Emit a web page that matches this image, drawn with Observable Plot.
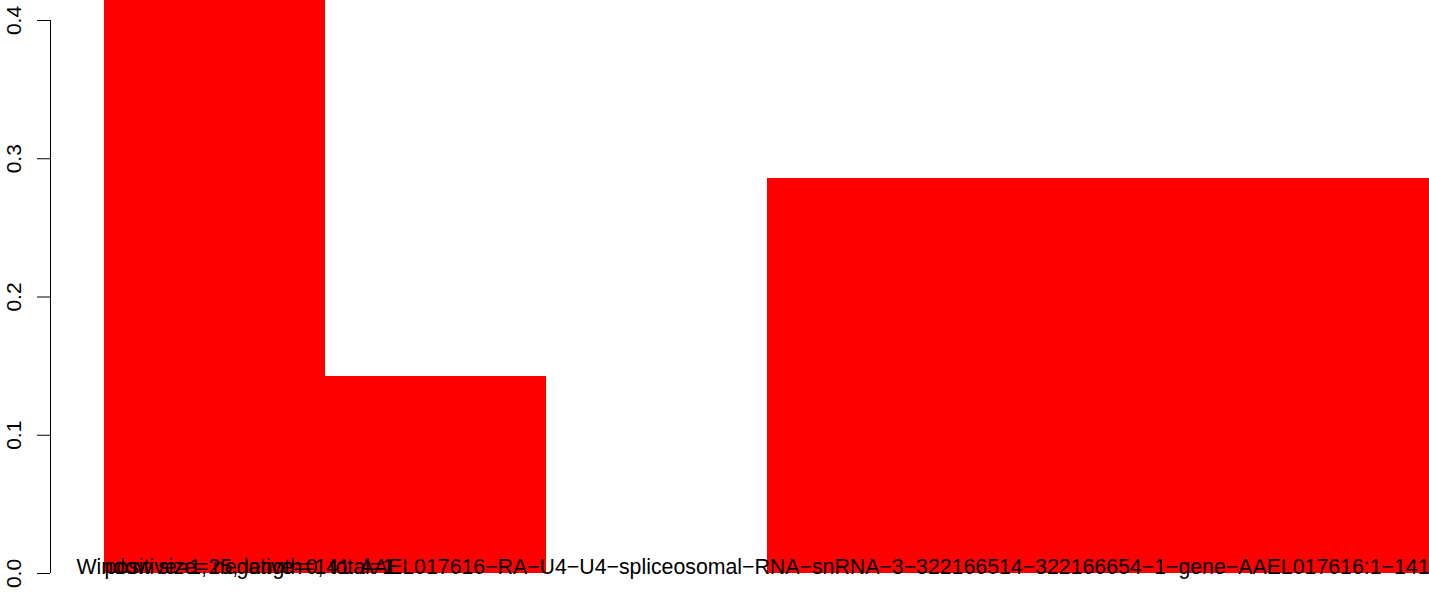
<!DOCTYPE html>
<html>
<head>
<meta charset="utf-8">
<script src="https://cdn.jsdelivr.net/npm/d3@7"></script>
<script src="https://cdn.jsdelivr.net/npm/@observablehq/plot@0.6"></script>
<style>
  html, body { margin: 0; padding: 0; background: #fff; overflow: hidden; }
  svg { display: block; }
</style>
</head>
<body>
<div id="chart"></div>
<script>
// Data
const windows = [1, 2, 3, 4, 5, 6];
const fractions = [3 / 7, 1 / 7, 0, 2 / 7, 2 / 7, 2 / 7];
const yTicks = [0, 0.1, 0.2, 0.3, 0.4];
const labelWindow = "Window size=25, length=141";
const labelCounts = "positive=1, negative=0, total=1";
const labelGene = "AAEL017616\u2212RA\u2212U4\u2212U4\u2212spliceosomal\u2212RNA\u2212snRNA\u22123\u2212322166514\u2212322166654\u22121\u2212gene\u2212AAEL017616:1\u2212141";

const bars = windows.map((w, i) => ({index: i, window: w, value: fractions[i]}));
const fs = 21;
const fsText = 21.3;

const chart = Plot.plot({
  width: 1429,
  height: 592,
  marginLeft: 104,
  marginRight: 0,
  marginTop: 20,
  marginBottom: 19,
  style: {fontFamily: "'Liberation Sans', Arial, Helvetica, sans-serif", background: "#ffffff", color: "#000000"},
  x: {domain: [0, windows.length], axis: null},
  y: {domain: [yTicks[0], yTicks[yTicks.length - 1]], axis: null},
  marks: [
    Plot.rectY(bars, {x1: "index", x2: d => d.index + 1, y: "value", fill: "#ff0000", shapeRendering: "crispEdges"}),
    Plot.ruleX([0], {y1: yTicks[0], y2: yTicks[yTicks.length - 1], dx: -54, stroke: "#000"}),
    Plot.axisY(yTicks, {
      anchor: "left",
      label: null,
      tickSize: 13,
      tickPadding: 17,
      dx: -54,
      tickRotate: -90,
      textAnchor: "middle",
      lineAnchor: "bottom",
      fontSize: fs,
      tickFormat: d3.format(".1f"),
      stroke: "#000",
      fill: "#000"
    }),
    Plot.text([labelWindow], {x: 0, y: 0, text: d => d, dx: -28, textAnchor: "start", lineAnchor: "bottom", fontSize: fsText, fill: "#000"}),
    Plot.text([labelCounts], {x: 0, y: 0, text: d => d, textAnchor: "start", lineAnchor: "bottom", fontSize: fsText, fill: "#000"}),
    Plot.text([labelGene], {x: windows.length, y: 0, text: d => d, textAnchor: "end", lineAnchor: "bottom", fontSize: fsText, fill: "#000"})
  ]
});
document.getElementById("chart").appendChild(chart);
</script>
</body>
</html>
